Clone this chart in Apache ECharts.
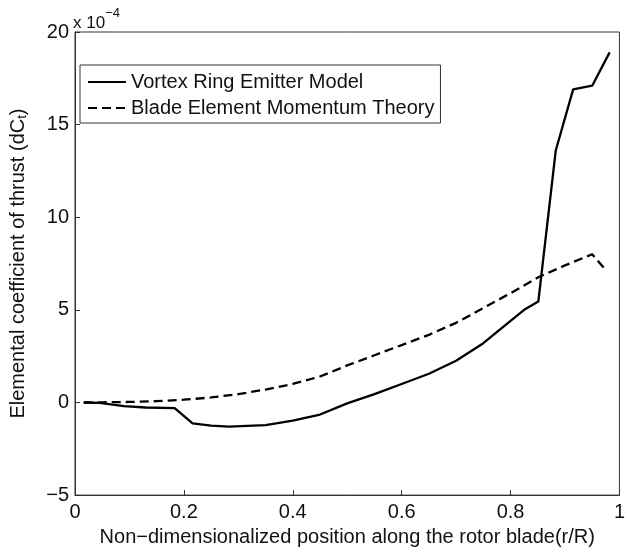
<!DOCTYPE html>
<html>
<head>
<meta charset="utf-8">
<script src="https://cdn.jsdelivr.net/npm/echarts@6/dist/echarts.min.js"></script>
<style>
html,body{margin:0;padding:0;background:#fff;}
#c{width:628px;height:552px;}
</style>
</head>
<body>
<div id="c"></div>
<script>
// Values in units of 1e-4
var vremR   = [0.016, 0.045, 0.09, 0.13, 0.183, 0.216, 0.25, 0.283, 0.35, 0.40, 0.45, 0.50, 0.55, 0.60, 0.65, 0.70, 0.75, 0.80, 0.825, 0.851, 0.883, 0.915, 0.950, 0.982];
var vremVal = [0, -0.02, -0.2, -0.27, -0.3, -1.13, -1.25, -1.3, -1.22, -0.98, -0.65, -0.05, 0.45, 1.0, 1.55, 2.25, 3.2, 4.4, 5.0, 5.45, 13.6, 16.9, 17.1, 18.9];
var bemtR   = [0.016, 0.05, 0.10, 0.15, 0.20, 0.25, 0.30, 0.35, 0.40, 0.45, 0.50, 0.55, 0.60, 0.65, 0.70, 0.75, 0.80, 0.85, 0.90, 0.95, 0.975];
var bemtVal = [0, 0.01, 0.03, 0.07, 0.15, 0.27, 0.45, 0.7, 1.0, 1.4, 2.0, 2.55, 3.1, 3.65, 4.3, 5.1, 5.9, 6.75, 7.4, 8.0, 7.15];
var xTicks = [0, 0.2, 0.4, 0.6, 0.8, 1];
var yTicks = [-5, 0, 5, 10, 15, 20];
var seriesNames = ['Vortex Ring Emitter Model', 'Blade Element Momentum Theory'];

function pairs(xs, ys){ return xs.map(function(x,i){ return [x, ys[i]]; }); }

var font = 'Liberation Sans, Arial, sans-serif';
var chart = echarts.init(document.getElementById('c'), null, {renderer:'canvas'});
chart.setOption({
  animation:false,
  backgroundColor:'#fff',
  textStyle:{fontFamily:font},
  grid:{left:72, right:2, top:32, bottom:51, show:true, borderColor:'#333', borderWidth:1, containLabel:false},
  legend:{
    show:true,
    orient:'vertical', left:80, top:65,
    backgroundColor:'#fff', borderColor:'#333', borderWidth:1,
    padding:[7,6,5,7], itemGap:6, itemWidth:38, itemHeight:14,
    itemStyle:{opacity:0},
    textStyle:{fontSize:20, color:'#111', fontFamily:font},
    data:[seriesNames[0], seriesNames[1]]
  },
  xAxis:{
    type:'value', min:xTicks[0], max:xTicks[xTicks.length-1], interval:0.2,
    name:'Non\u2212dimensionalized position along the rotor blade(r/R)',
    nameLocation:'middle', nameGap:25,
    nameTextStyle:{fontSize:20, color:'#111', fontFamily:font},
    axisLine:{onZero:false, lineStyle:{color:'#333', width:1}},
    axisTick:{inside:true, length:5, lineStyle:{color:'#333'}},
    axisLabel:{fontSize:20, color:'#111', margin:7, fontFamily:font,
      formatter:function(v){ return String(v); }},
    splitLine:{show:false}
  },
  yAxis:{
    type:'value', min:yTicks[0], max:yTicks[yTicks.length-1], interval:5,
    name:'{a|Elemental coefficient of thrust (dC}{s|t}{a|)}',
    nameLocation:'middle', nameGap:46,
    nameTextStyle:{fontSize:20, color:'#111', fontFamily:font,
      rich:{a:{fontSize:20, color:'#111', fontFamily:font}, s:{fontSize:13, color:'#111', fontFamily:font, verticalAlign:'bottom', padding:[9,0,0,0]}}},
    axisLine:{onZero:false, lineStyle:{color:'#333', width:1}},
    axisTick:{inside:true, length:5, lineStyle:{color:'#333'}},
    axisLabel:{fontSize:20, color:'#111', margin:6, fontFamily:font,
      formatter:function(v){ return v < 0 ? '\u2212' + Math.abs(v) : String(v); }},
    splitLine:{show:false}
  },
  graphic:[{
    type:'text', left:73, top:7,
    style:{text:'{a|x 10}{s|\u22124}', fill:'#111', font:'17px '+font,
      rich:{a:{fontSize:17, fontFamily:font, fill:'#111', padding:[8,0,0,0]}, s:{fontSize:13, fontFamily:font, fill:'#111', verticalAlign:'top'}}}
  }],
  series:[
    {name:seriesNames[0], type:'line', data:pairs(vremR, vremVal), symbol:'none',
     lineStyle:{color:'#000', width:2.3, type:'solid'}, itemStyle:{color:'#000'}},
    {name:seriesNames[1], type:'line', data:pairs(bemtR, bemtVal), symbol:'none', smooth:false,
     lineStyle:{color:'#000', width:2.3, type:[9,5]}, itemStyle:{color:'#000'}}
  ]
});
</script>
</body>
</html>
